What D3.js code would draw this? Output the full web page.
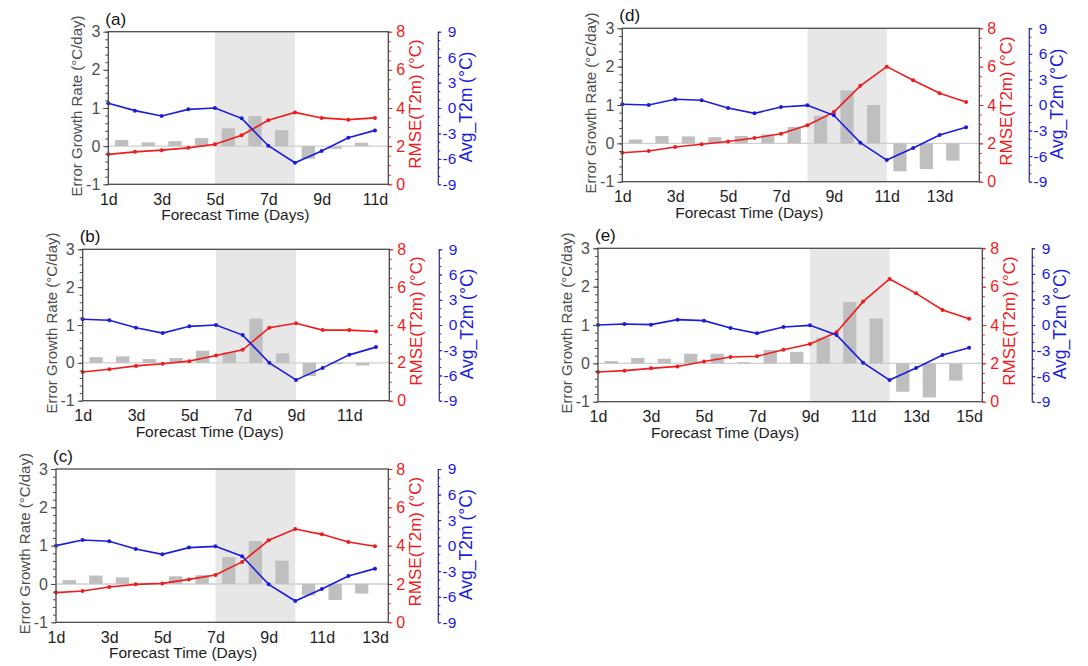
<!DOCTYPE html>
<html>
<head>
<meta charset="utf-8">
<script src="https://cdn.jsdelivr.net/npm/d3@7"></script>
<style>
  html, body { margin: 0; padding: 0; background: #fff; }
  svg { display: block; font-family: "Liberation Sans", Arial, Helvetica, sans-serif; }
</style>
</head>
<body>
<svg id="fig" width="1088" height="666"></svg>
<script>
// ---- data -------------------------------------------------------------
const panelLabels = ["(a)", "(b)", "(c)", "(d)", "(e)"];

// shaded window (forecast day start / end)
const shadeStart = [5, 6, 7, 8, 9];
const shadeEnd   = [8, 9, 10, 11, 12];

// error growth rate (°C/day), one bar between consecutive forecast days
const growthA = [0.16, 0.10, 0.13, 0.21, 0.47, 0.79, 0.42, -0.33, -0.07, 0.09];
const growthB = [0.15, 0.17, 0.10, 0.13, 0.32, 0.28, 1.17, 0.25, -0.35, -0.03, -0.07];
const growthC = [0.10, 0.22, 0.17, 0.01, 0.20, 0.23, 0.70, 1.12, 0.61, -0.30, -0.42, -0.25];
const growthD = [0.10, 0.19, 0.18, 0.16, 0.19, 0.23, 0.43, 0.72, 1.38, 1.00, -0.73, -0.67, -0.45];
const growthE = [0.06, 0.14, 0.12, 0.25, 0.25, 0.03, 0.35, 0.30, 0.67, 1.60, 1.17, -0.74, -0.89, -0.45];

// RMSE of T2m (°C) at each forecast day
const rmseA = [1.57, 1.70, 1.79, 1.91, 2.10, 2.57, 3.36, 3.77, 3.48, 3.39, 3.48];
const rmseB = [1.52, 1.66, 1.84, 1.95, 2.09, 2.39, 2.69, 3.86, 4.09, 3.73, 3.73, 3.66];
const rmseC = [1.55, 1.63, 1.84, 1.98, 2.03, 2.24, 2.47, 3.15, 4.28, 4.87, 4.59, 4.19, 3.97];
const rmseD = [1.51, 1.60, 1.81, 1.95, 2.10, 2.28, 2.50, 2.94, 3.63, 5.00, 6.00, 5.29, 4.61, 4.16];
const rmseE = [1.55, 1.62, 1.74, 1.84, 2.10, 2.33, 2.37, 2.71, 3.01, 3.62, 5.22, 6.40, 5.65, 4.78, 4.33];

// average T2m (°C) at each forecast day
const avgA = [0.55, -0.31, -0.94, -0.16, 0.00, -1.22, -4.45, -6.46, -5.08, -3.50, -2.64];
const avgB = [0.68, 0.56, -0.32, -0.96, -0.16, 0.00, -1.20, -4.50, -6.53, -5.10, -3.55, -2.63];
const avgC = [0.00, 0.66, 0.52, -0.39, -1.02, -0.23, -0.08, -1.25, -4.54, -6.50, -5.09, -3.56, -2.70];
const avgD = [0.08, 0.00, 0.67, 0.55, -0.35, -0.98, -0.23, -0.04, -1.21, -4.42, -6.46, -5.05, -3.52, -2.62];
const avgE = [0.00, 0.12, 0.04, 0.63, 0.51, -0.35, -0.98, -0.23, -0.04, -1.17, -4.42, -6.46, -5.05, -3.52, -2.66];

// axis ticks
const growthTicks = [-1, 0, 1, 2, 3];
const rmseTicks = [0, 2, 4, 6, 8];
const avgTicks = [-9, -6, -3, 0, 3, 6, 9];
const dayLabel = d => d + "d";
const plainNum = d => String(d);   // ASCII hyphen for negatives

// axis titles
const growthTitle = "Error Growth Rate (\u00B0C/day)";
const rmseTitle = "RMSE(T2m) (\u00B0C)";
const avgTitle = "Avg_T2m (\u00B0C)";
const timeTitle = "Forecast Time (Days)";

const growthSets = [growthA, growthB, growthC, growthD, growthE];
const rmseSets = [rmseA, rmseB, rmseC, rmseD, rmseE];
const avgSets = [avgA, avgB, avgC, avgD, avgE];

// ---- layout (plot frame of each panel, in px) --------------------------
const frames = [
  { x0: 108.3, x1: 388.3, y0: 31.7,  y1: 184.3 },
  { x0: 82.7,  x1: 389.3, y0: 249.3, y1: 400.7 },
  { x0: 56.0,  x1: 388.3, y0: 469.0, y1: 622.3 },
  { x0: 622.3, x1: 979.3, y0: 28.3,  y1: 181.7 },
  { x0: 598.0, x1: 982.3, y0: 248.3, y1: 401.7 }
];

const C = {
  frame: "#4a4a4a",
  text: "#1e1e1e",
  grayText: "#4e4e4e",
  red: "#ee1c1c",
  blue: "#1c1cdc",
  blueAxis: "#3a3a80",
  bar: "#bfbfbf",
  shade: "#e7e7e7",
  zero: "#cfcfcf"
};
const FONT = "Liberation Sans, Arial, sans-serif";
const tickFont = 16;

const svg = d3.select("#fig");

panelLabels.forEach((label, i) => {
  const f = frames[i];
  const growth = growthSets[i], rmse = rmseSets[i], avg = avgSets[i];
  const nDays = rmse.length;
  const days = d3.range(1, nDays + 1);

  const x = d3.scaleLinear().domain([1, nDays + 0.5]).range([f.x0, f.x1]);
  const y = d3.scaleLinear().domain([-1, 3]).range([f.y1, f.y0]);
  const yR = d3.scaleLinear().domain([0, 8]).range([f.y1, f.y0]);
  const yB = d3.scaleLinear().domain([-9, 9]).range([f.y1, f.y0]);

  const g = svg.append("g").attr("class", "panel");

  // shaded window
  g.append("rect")
    .attr("x", x(shadeStart[i])).attr("y", f.y0)
    .attr("width", x(shadeEnd[i]) - x(shadeStart[i]))
    .attr("height", f.y1 - f.y0)
    .attr("fill", C.shade);

  // zero reference line
  g.append("line")
    .attr("x1", f.x0).attr("x2", f.x1)
    .attr("y1", y(0)).attr("y2", y(0))
    .attr("stroke", C.zero).attr("stroke-width", 1.3);

  // growth-rate bars, centred between days
  const barW = x(1.5) - x(1);
  g.selectAll("rect.bar").data(growth).join("rect")
    .attr("class", "bar")
    .attr("x", (d, k) => x(k + 1.5) - barW / 2)
    .attr("y", d => Math.min(y(d), y(0)))
    .attr("width", barW)
    .attr("height", d => Math.abs(y(d) - y(0)))
    .attr("fill", C.bar);

  // RMSE line
  const lineR = d3.line().x((d, k) => x(days[k])).y(d => yR(d));
  g.append("path").datum(rmse)
    .attr("d", lineR).attr("fill", "none")
    .attr("stroke", C.red).attr("stroke-width", 1.6);
  g.selectAll("circle.r").data(rmse).join("circle")
    .attr("class", "r")
    .attr("cx", (d, k) => x(days[k])).attr("cy", d => yR(d))
    .attr("r", 2).attr("fill", C.red);

  // average T2m line
  const lineB = d3.line().x((d, k) => x(days[k])).y(d => yB(d));
  g.append("path").datum(avg)
    .attr("d", lineB).attr("fill", "none")
    .attr("stroke", C.blue).attr("stroke-width", 1.6);
  g.selectAll("circle.b").data(avg).join("circle")
    .attr("class", "b")
    .attr("cx", (d, k) => x(days[k])).attr("cy", d => yB(d))
    .attr("r", 2).attr("fill", C.blue);

  // left axis (growth rate)
  const axL = d3.axisLeft(y).tickValues(growthTicks).tickSize(5).tickPadding(3)
    .tickFormat(plainNum);
  const gL = g.append("g").attr("transform", `translate(${f.x0},0)`).call(axL);
  gL.select(".domain").remove();
  gL.selectAll("line").attr("stroke", C.frame);
  gL.selectAll("text").attr("fill", C.grayText).attr("font-size", tickFont)
    .attr("font-family", FONT);
  const axLm = d3.axisLeft(y).tickValues(d3.range(-1, 3.001, 0.2)).tickSize(3).tickFormat("");
  const gLm = g.append("g").attr("transform", `translate(${f.x0},0)`).call(axLm);
  gLm.select(".domain").remove();
  gLm.selectAll("line").attr("stroke", C.frame);

  // right axis (RMSE) in red
  const axR = d3.axisRight(yR).tickValues(rmseTicks).tickSize(4).tickPadding(4)
    .tickFormat(plainNum);
  const gR = g.append("g").attr("transform", `translate(${f.x1},0)`).call(axR);
  gR.select(".domain").remove();
  gR.selectAll("line").attr("stroke", C.red);
  gR.selectAll("text").attr("fill", C.red).attr("font-size", tickFont)
    .attr("font-family", FONT);
  const axRm = d3.axisRight(yR).tickValues(d3.range(0, 8.001, 0.5)).tickSize(2.5).tickFormat("");
  const gRm = g.append("g").attr("transform", `translate(${f.x1},0)`).call(axRm);
  gRm.select(".domain").remove();
  gRm.selectAll("line").attr("stroke", C.red);

  // offset axis (Avg T2m) in blue
  const bx = f.x1 + 50;
  g.append("line").attr("x1", bx).attr("x2", bx).attr("y1", f.y0).attr("y2", f.y1)
    .attr("stroke", C.blueAxis).attr("stroke-width", 1.3);
  const axBm = d3.axisRight(yB).tickValues(d3.range(-9, 9.001, 1)).tickSize(2).tickFormat("");
  const gBm = g.append("g").attr("transform", `translate(${bx},0)`).call(axBm);
  gBm.select(".domain").remove();
  gBm.selectAll("line").attr("stroke", C.blue);
  const axB = d3.axisRight(yB).tickValues(avgTicks).tickSize(3).tickFormat(plainNum);
  const gB = g.append("g").attr("transform", `translate(${bx},0)`).call(axB);
  gB.select(".domain").remove();
  gB.selectAll("line").attr("stroke", C.blue);
  gB.selectAll("text").attr("fill", C.blue).attr("font-size", 15.5)
    .attr("font-family", FONT)
    .attr("text-anchor", "end").attr("x", 18);

  // bottom axis (forecast days)
  const oddDays = days.filter(d => d % 2 === 1);
  const axX = d3.axisBottom(x).tickValues(oddDays).tickSize(0).tickPadding(9)
    .tickFormat(dayLabel);
  const gX = g.append("g").attr("transform", `translate(0,${f.y1})`).call(axX);
  gX.select(".domain").remove();
  gX.selectAll("text").attr("fill", C.text).attr("font-size", tickFont)
    .attr("font-family", FONT);

  // plot frame
  g.append("rect")
    .attr("x", f.x0).attr("y", f.y0)
    .attr("width", f.x1 - f.x0).attr("height", f.y1 - f.y0)
    .attr("fill", "none").attr("stroke", C.frame).attr("stroke-width", 1.3);

  // titles
  g.append("text")
    .attr("x", f.x0 + 127).attr("y", f.y1 + 36)
    .attr("text-anchor", "middle").attr("font-size", 15.5).attr("fill", C.text)
    .text(timeTitle);

  const cy = (f.y0 + f.y1) / 2;
  g.append("text")
    .attr("transform", `translate(${f.x0 - 26},${cy - 2}) rotate(-90)`)
    .attr("text-anchor", "middle").attr("font-size", 15).attr("fill", C.grayText)
    .text(growthTitle);

  g.append("text")
    .attr("transform", `translate(${f.x1 + 33},${cy - 4}) rotate(-90)`)
    .attr("text-anchor", "middle").attr("font-size", 17).attr("fill", C.red)
    .text(rmseTitle);

  g.append("text")
    .attr("transform", `translate(${f.x1 + 84},${cy - 1}) rotate(-90)`)
    .attr("text-anchor", "middle").attr("font-size", 17.5).attr("fill", C.blue)
    .text(avgTitle);

  // panel label
  g.append("text")
    .attr("x", f.x0 - 3).attr("y", f.y0 - 7)
    .attr("font-size", 17).attr("fill", "#111")
    .text(label);
});
</script>
</body>
</html>
